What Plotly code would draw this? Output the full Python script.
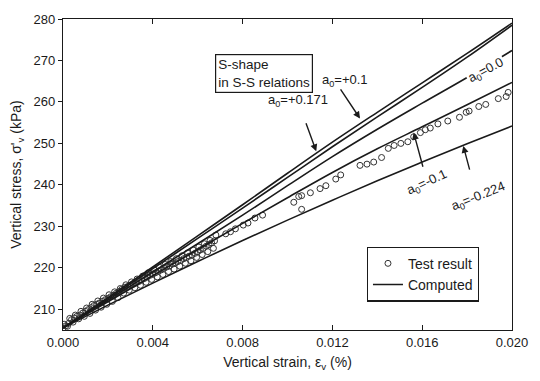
import plotly.graph_objects as go

# ---------------- data ----------------
strain_grid = [0.000, 0.002, 0.004, 0.006, 0.008, 0.010, 0.012, 0.014, 0.016, 0.018, 0.020]

computed = {
    "+0.171": [205.5, 212.8, 220.2, 227.7, 235.2, 242.8, 250.3, 257.5, 264.6, 271.7, 279.0],
    "+0.1":   [205.5, 212.5, 219.8, 227.1, 234.4, 241.8, 249.2, 256.4, 263.5, 270.8, 278.5],
    "0.0":    [205.5, 212.2, 219.0, 225.8, 232.7, 239.8, 246.8, 253.4, 259.7, 265.9, 272.4],
    "-0.1":   [205.5, 211.8, 218.1, 224.4, 230.7, 236.9, 243.0, 248.7, 254.0, 259.3, 264.7],
    "-0.224": [205.5, 211.0, 216.3, 221.5, 226.6, 231.5, 236.3, 241.0, 245.5, 249.9, 254.2],
}

test_strain = [
    0.00000, 0.00012, 0.00025, 0.00038, 0.00050, 0.00062, 0.00075, 0.00088, 0.00100, 0.00112,
    0.00125, 0.00138, 0.00150, 0.00162, 0.00175, 0.00188, 0.00200, 0.00212, 0.00225, 0.00238,
    0.00250, 0.00262, 0.00275, 0.00288, 0.00300, 0.00312, 0.00325, 0.00338, 0.00350, 0.00362,
    0.00375, 0.00388, 0.00400, 0.00412, 0.00425, 0.00438, 0.00450, 0.00462, 0.00475, 0.00488,
    0.00500, 0.00512, 0.00525, 0.00538, 0.00550, 0.00562, 0.00575, 0.00588, 0.00600, 0.00612,
    0.00625, 0.00638, 0.00650, 0.00662, 0.00675,
    0.00005, 0.00030, 0.00055, 0.00080, 0.00105, 0.00130, 0.00155, 0.00180, 0.00205, 0.00230,
    0.00255, 0.00280, 0.00305, 0.00330, 0.00355, 0.00380, 0.00405, 0.00430, 0.00455, 0.00480,
    0.00505, 0.00530, 0.00555, 0.00580, 0.00605, 0.00630, 0.00655,
    0.00020, 0.00045, 0.00070, 0.00095, 0.00120, 0.00145, 0.00170, 0.00195, 0.00220, 0.00245,
    0.00270, 0.00295, 0.00320, 0.00345, 0.00370, 0.00395, 0.00420, 0.00445, 0.00470, 0.00495,
    0.00520, 0.00545, 0.00570, 0.00595, 0.00620, 0.00645, 0.00670,
    0.00681, 0.00725, 0.00746, 0.00768, 0.00803, 0.00824, 0.00855, 0.00889, 0.01028, 0.01050,
    0.01063, 0.01063, 0.01102, 0.01145, 0.01171, 0.01215, 0.01237, 0.01323, 0.01354, 0.01384,
    0.01419, 0.01449, 0.01475, 0.01505, 0.01536, 0.01562, 0.01592, 0.01614, 0.01636, 0.01670,
    0.01714, 0.01766, 0.01796, 0.01809, 0.01852, 0.01883, 0.01939, 0.01974, 0.01983,
]
test_stress = [
    205.4, 206.0, 206.6, 207.5, 207.9, 208.3, 208.6, 209.1, 209.5, 209.9,
    210.4, 210.9, 211.2, 211.5, 211.9, 212.3, 212.6, 213.0, 213.4, 213.9,
    214.3, 214.8, 215.3, 215.5, 215.7, 216.0, 216.3, 216.7, 217.1, 217.4,
    217.8, 218.2, 218.5, 218.8, 219.2, 219.5, 219.9, 220.2, 220.5, 220.9,
    221.2, 221.5, 221.8, 222.2, 222.5, 222.8, 223.1, 223.5, 223.9, 224.3,
    224.7, 225.2, 225.6, 226.0, 226.5,
    206.4, 207.8, 208.6, 209.5, 210.3, 211.2, 212.0, 212.7, 213.5, 214.2,
    215.0, 215.9, 216.6, 217.3, 218.0, 218.8, 219.5, 220.1, 220.8, 221.5,
    222.2, 222.9, 223.6, 224.3, 225.0, 225.8, 226.6,
    205.9, 206.9, 207.7, 208.3, 209.0, 209.8, 210.5, 211.2, 211.9, 212.8,
    213.9, 214.6, 215.2, 215.8, 216.5, 217.2, 217.8, 218.4, 219.1, 219.7,
    220.4, 221.1, 221.7, 222.5, 223.2, 223.9, 224.7,
    227.9, 228.2, 228.7, 229.4, 230.3, 230.8, 232.0, 232.7, 235.8, 237.2,
    237.4, 234.1, 238.1, 239.1, 239.8, 241.4, 242.4, 244.7, 245.0, 245.5,
    246.6, 248.8, 249.5, 250.0, 250.4, 251.6, 252.6, 253.3, 253.7, 254.7,
    255.4, 256.3, 257.5, 257.8, 258.9, 259.4, 260.8, 261.3, 262.3,
]

x_ticks = [0.000, 0.004, 0.008, 0.012, 0.016, 0.020]
x_ticklabels = ["0.000", "0.004", "0.008", "0.012", "0.016", "0.020"]
y_ticks = [210, 220, 230, 240, 250, 260, 270, 280]

# label annotations: (text, x, y, angle)
labels = [
    ("a<sub>0</sub>=+0.1", 0.01254, 265.2, 0),
    ("a<sub>0</sub>=+0.171", 0.01045, 260.4, 0),
    ("a<sub>0</sub>=0.0", 0.01885, 267.6, -28),
    ("a<sub>0</sub>=-0.1", 0.01623, 240.5, -25),
    ("a<sub>0</sub>=-0.224", 0.01852, 237.2, -22),
]
# arrows: (tail_x, tail_y, tip_x, tip_y)
arrows = [
    (0.01232, 263.4, 0.01323, 256.0),
    (0.01080, 255.2, 0.01128, 248.1),
    (0.01605, 244.0, 0.01562, 252.6),
    (0.01813, 243.3, 0.01783, 249.4),
]

FONT = "Liberation Sans, Arial, sans-serif"
INK = "#1a1a1a"

fig = go.Figure()
fig.add_trace(go.Scatter(
    x=test_strain, y=test_stress, mode="markers", name="Test result",
    marker=dict(symbol="circle-open", size=6, color="#333333", line=dict(width=1)),
))
first = True
for key, vals in computed.items():
    fig.add_trace(go.Scatter(
        x=strain_grid, y=vals, mode="lines", name="Computed",
        line=dict(color=INK, width=1.6, shape="spline", smoothing=1.0),
        showlegend=first,
    ))
    first = False

for text, x, y, ang in labels:
    fig.add_annotation(x=x, y=y, text=text, showarrow=False, textangle=ang,
                       font=dict(family=FONT, size=13, color=INK),
                       bgcolor="white" if ang == -28 else "rgba(0,0,0,0)")
for tx, ty, hx, hy in arrows:
    fig.add_annotation(x=hx, y=hy, ax=tx, ay=ty, axref="x", ayref="y", text="",
                       showarrow=True, arrowhead=2, arrowsize=1, arrowwidth=1.4,
                       arrowcolor=INK)

fig.add_annotation(x=0.0, y=1.0, xref="paper", yref="paper",
                   text="S-shape<br>in S-S relations", showarrow=False,
                   align="left", xanchor="left", yanchor="top",
                   xshift=152, yshift=-35,
                   font=dict(family=FONT, size=13.5, color=INK),
                   bordercolor=INK, borderwidth=1.2, borderpad=2, bgcolor="white")

fig.update_layout(
    width=540, height=381,
    margin=dict(l=63, r=16, t=13, b=51),
    paper_bgcolor="white", plot_bgcolor="white",
    font=dict(family=FONT, size=13, color=INK),
    showlegend=True,
    legend=dict(x=0.926, y=0.0915, xanchor="right", yanchor="bottom",
                bgcolor="white", bordercolor=INK, borderwidth=1.2,
                font=dict(family=FONT, size=14, color=INK),
                tracegroupgap=0, itemwidth=30),
    xaxis=dict(range=[0.0, 0.02], tickvals=x_ticks, ticktext=x_ticklabels,
               ticklabeloverflow="allow",
               ticks="inside", ticklen=5, tickcolor=INK, showline=True, linecolor=INK,
               linewidth=1.2, mirror="ticks", showgrid=False, zeroline=False,
               tickfont=dict(family=FONT, size=13, color=INK),
               title=dict(text="Vertical strain, ε<sub>v</sub> (%)", standoff=8,
                          font=dict(family=FONT, size=14, color=INK))),
    yaxis=dict(range=[205, 280], tickvals=y_ticks,
               ticks="outside", ticklen=4, tickcolor=INK, showline=True, linecolor=INK,
               linewidth=1.2, mirror=True, showgrid=False, zeroline=False,
               tickfont=dict(family=FONT, size=13, color=INK),
               title=dict(text="Vertical stress, σ'<sub>v</sub> (kPa)", standoff=8,
                          font=dict(family=FONT, size=14, color=INK))),
)

fig.write_html("out.html")
